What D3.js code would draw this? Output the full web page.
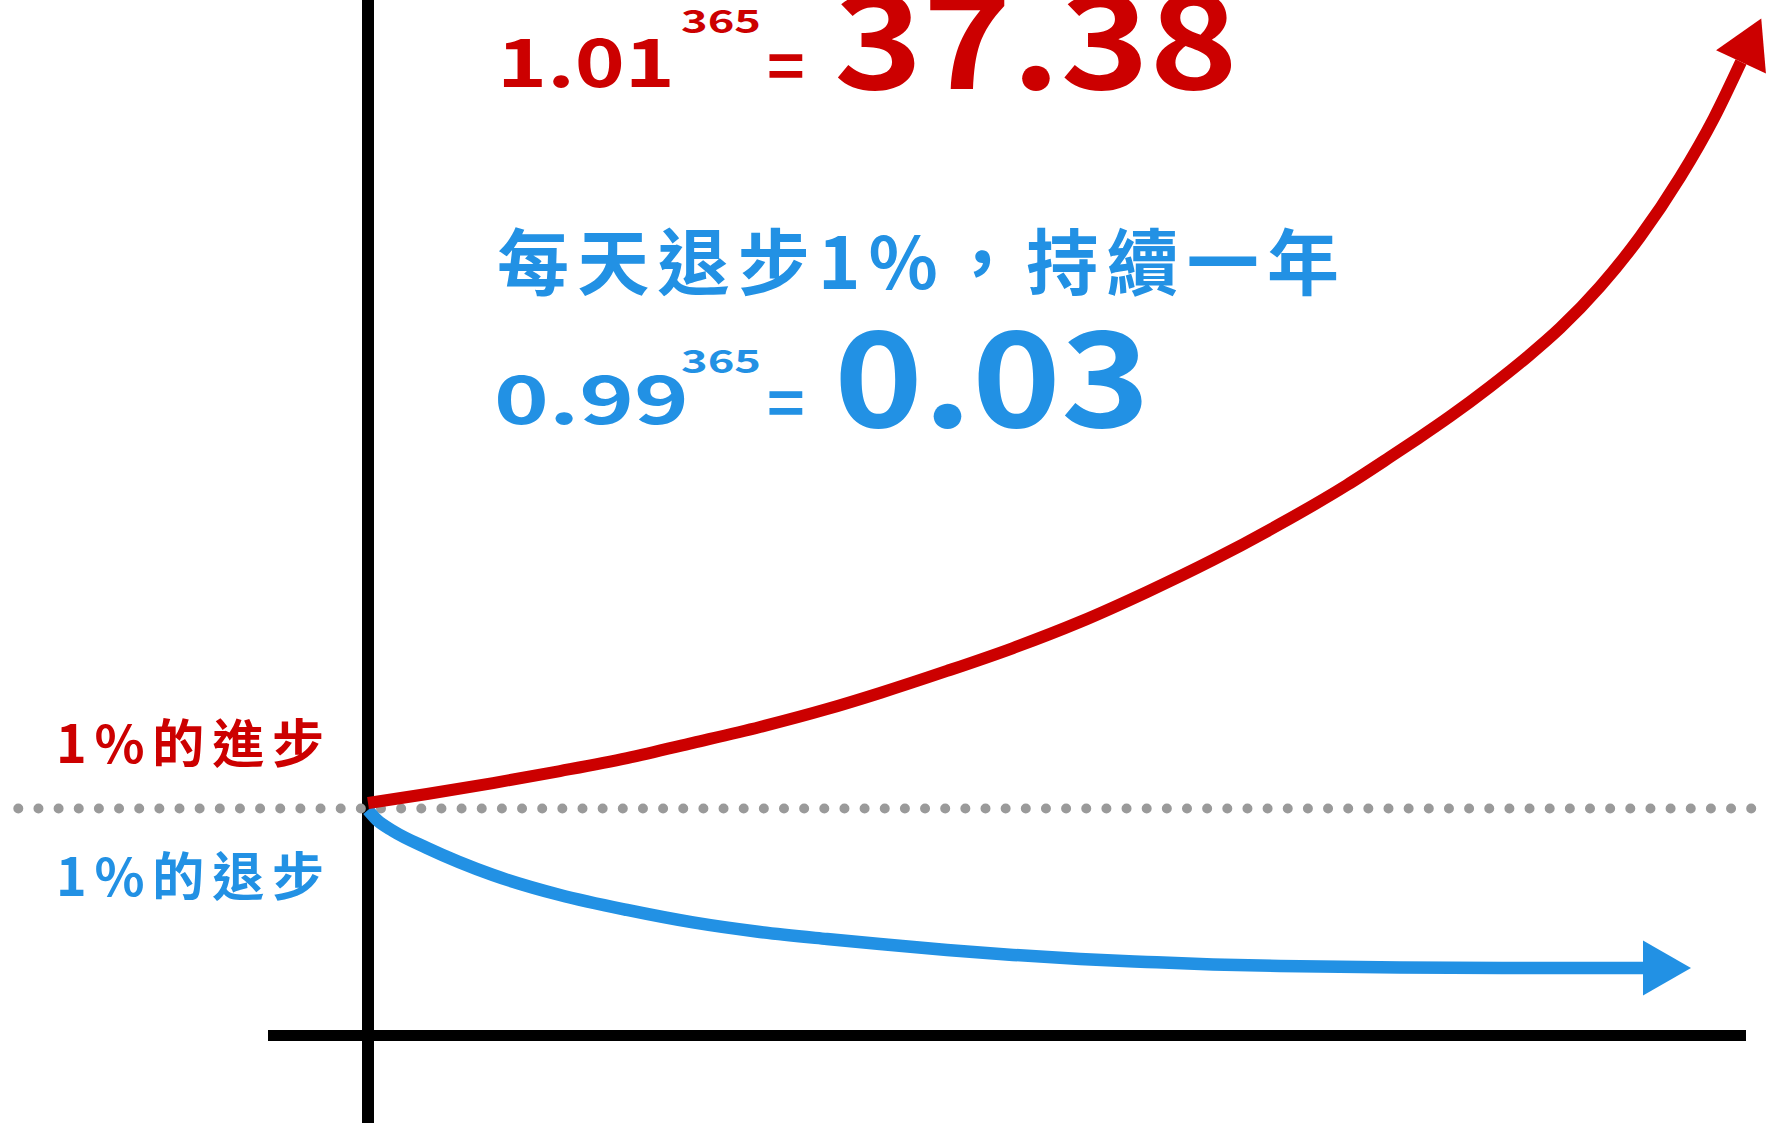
<!DOCTYPE html>
<html>
<head>
<meta charset="utf-8">
<script src="https://cdn.jsdelivr.net/npm/d3@7"></script>
<style>
  html, body { margin: 0; padding: 0; background: #ffffff; }
  svg { display: block; }
  text { font-family: "Noto Sans CJK TC", "Noto Sans CJK SC", "Noto Sans", sans-serif; font-weight: 700; }
</style>
</head>
<body>
<svg id="chart" width="1771" height="1123"></svg>
<script>
// ---- data (illustrative units: 1 = starting level) ----
const upDays     = [0, 15.45, 32.73, 50.27, 67.82, 85.10, 102.64, 120.19, 134.06, 151.61, 168.89, 186.43, 203.97, 221.25, 238.80, 256.34, 267.60, 274.93, 283.31, 293.79, 303.73, 312.11, 322.59, 333.06, 343.53, 352.43, 359.50];
const upValues   = [1.024, 1.064, 1.112, 1.165, 1.222, 1.289, 1.359, 1.438, 1.509, 1.606, 1.707, 1.822, 1.954, 2.095, 2.253, 2.425, 2.548, 2.630, 2.727, 2.858, 2.992, 3.116, 3.299, 3.518, 3.780, 4.042, 4.289];
const downDays   = [0, 2.36, 6.55, 15.45, 32.73, 50.27, 67.82, 85.10, 102.64, 120.19, 134.06, 151.61, 168.89, 186.43, 203.97, 221.25, 238.80, 270.22, 301.64, 333.84];
const downValues = [0.993, 0.949, 0.901, 0.826, 0.707, 0.619, 0.553, 0.498, 0.456, 0.425, 0.403, 0.377, 0.355, 0.337, 0.324, 0.313, 0.306, 0.300, 0.297, 0.297];

const upLabel    = "1%的進步";
const downLabel  = "1%的退步";
const headline   = "每天退步1%，持續一年";
const exponent   = "365";
const upBase     = "1.01";
const upResult   = "37.38";
const downBase   = "0.99";
const downResult = "0.03";
const equalsSign = "=";

const RED = "#cc0000", BLUE = "#2291e4", GREY = "#9a9a9a";

const svg = d3.select("#chart");
svg.append("rect").attr("width", 1771).attr("height", 1123).attr("fill", "#fff");

const x = d3.scaleLinear().domain([0, 365]).range([368, 1762]);
const y = d3.scaleLinear().domain([0, 1]).range([1035.5, 808.5]);

// arrow markers
const defs = svg.append("defs");
function marker(id, color) {
  defs.append("marker")
    .attr("id", id)
    .attr("markerUnits", "userSpaceOnUse")
    .attr("viewBox", "0 -30 50 60")
    .attr("markerWidth", 50).attr("markerHeight", 60)
    .attr("refX", 0).attr("refY", 0)
    .attr("orient", "auto")
    .style("overflow", "visible")
    .append("path")
    .attr("d", "M0,-27.5L48,0L0,27.5Z")
    .attr("fill", color);
}
marker("arrowRed", RED);
marker("arrowBlue", BLUE);

// axes (plain lines, no ticks)
svg.append("line")
  .attr("x1", x(0)).attr("x2", x(0))
  .attr("y1", 0).attr("y2", 1123)
  .attr("stroke", "#000").attr("stroke-width", 12);
svg.append("line")
  .attr("x1", 268).attr("x2", 1746)
  .attr("y1", y(0)).attr("y2", y(0))
  .attr("stroke", "#000").attr("stroke-width", 11);

// dotted baseline at level 1
svg.append("line")
  .attr("x1", 18.3).attr("x2", 1753)
  .attr("y1", y(1)).attr("y2", y(1))
  .attr("stroke", GREY).attr("stroke-width", 10)
  .attr("stroke-linecap", "round")
  .attr("stroke-dasharray", "0,20.15");

const line = d3.line()
  .x(d => x(d[0])).y(d => y(d[1]))
  .curve(d3.curveMonotoneX);

svg.append("path")
  .datum(downDays.map((d, i) => [d, downValues[i]]))
  .attr("d", line)
  .attr("fill", "none")
  .attr("stroke", BLUE).attr("stroke-width", 12.5)
  .attr("marker-end", "url(#arrowBlue)");

svg.append("path")
  .datum(upDays.map((d, i) => [d, upValues[i]]))
  .attr("d", line)
  .attr("fill", "none")
  .attr("stroke", RED).attr("stroke-width", 12)
  .attr("marker-end", "url(#arrowRed)");

// texts
function txt(str, px, py, size, color, len, adjust) {
  const t = svg.append("text")
    .attr("x", px).attr("y", py)
    .attr("font-size", size)
    .attr("fill", color)
    .text(str);
  if (len) t.attr("textLength", len).attr("lengthAdjust", adjust || "spacing");
  return t;
}

// side labels
txt(upLabel, 56, 763, 52, RED, 268);
txt(downLabel, 56, 896, 52, BLUE, 268);

// red formula
txt(upBase, 497, 87, 67, RED, 178, "spacingAndGlyphs");
txt(exponent, 681, 33, 32, RED, 80, "spacingAndGlyphs");
txt(equalsSign, 767, 90, 64, RED);
txt(upResult, 834, 89, 132, RED, 404, "spacingAndGlyphs");

// blue headline + formula
txt(headline, 497, 289, 72, BLUE, 842);
txt(downBase, 494, 424, 67, BLUE, 195, "spacingAndGlyphs");
txt(exponent, 681, 373, 32, BLUE, 80, "spacingAndGlyphs");
txt(equalsSign, 767, 427, 64, BLUE);
txt(downResult, 834, 427, 132, BLUE, 316, "spacingAndGlyphs");
</script>
</body>
</html>
